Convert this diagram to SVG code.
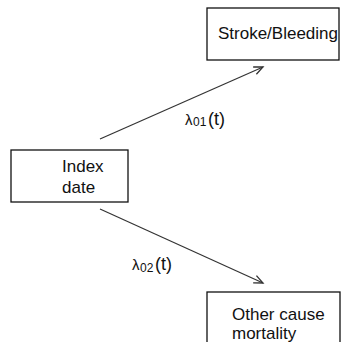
<svg xmlns="http://www.w3.org/2000/svg" width="342" height="342" viewBox="0 0 342 342">
<style>
.box{fill:#fff;stroke:#111;stroke-width:1.3}
.t{font-family:"Liberation Sans",Arial,sans-serif;font-size:17px;fill:#111}
.l{font-family:"Liberation Sans",Arial,sans-serif;fill:#111}
.c{stroke:#333;stroke-width:1.2;fill:none;marker-end:url(#a)}
</style>
<defs>
<marker id="a" markerWidth="12" markerHeight="10" refX="10" refY="5" orient="auto" markerUnits="userSpaceOnUse">
<path d="M1,1 L10,5 L1,9" fill="none" stroke="#333" stroke-width="1.3"/>
</marker>
</defs>
<rect width="342" height="342" fill="#fff"/>
<g id="connectors">
<line class="c" x1="100" y1="139" x2="263" y2="67"/>
<line class="c" x1="100" y1="209" x2="263" y2="283"/>
<text class="l" y="125"><tspan x="185" font-size="15">λ</tspan><tspan x="193" font-size="12" dy="1">01</tspan><tspan x="208" font-size="18" dy="-1">(t)</tspan></text>
<text class="l" y="270"><tspan x="132" font-size="15">λ</tspan><tspan x="140" font-size="12" dy="2">02</tspan><tspan x="155" font-size="18" dy="-2">(t)</tspan></text>
</g>
<g id="stroke">
<rect class="box" x="207" y="8" width="132" height="52"/>
<text class="t" x="218" y="39" textLength="120">Stroke/Bleeding</text>
</g>
<g id="index">
<rect class="box" x="11" y="150" width="117" height="52"/>
<text class="t" x="62" y="172">Index</text>
<text class="t" x="62" y="193">date</text>
</g>
<g id="other">
<rect class="box" x="207" y="292" width="133" height="60"/>
<text class="t" x="232" y="320">Other cause</text>
<text class="t" x="232" y="339">mortality</text>
</g>
</svg>
